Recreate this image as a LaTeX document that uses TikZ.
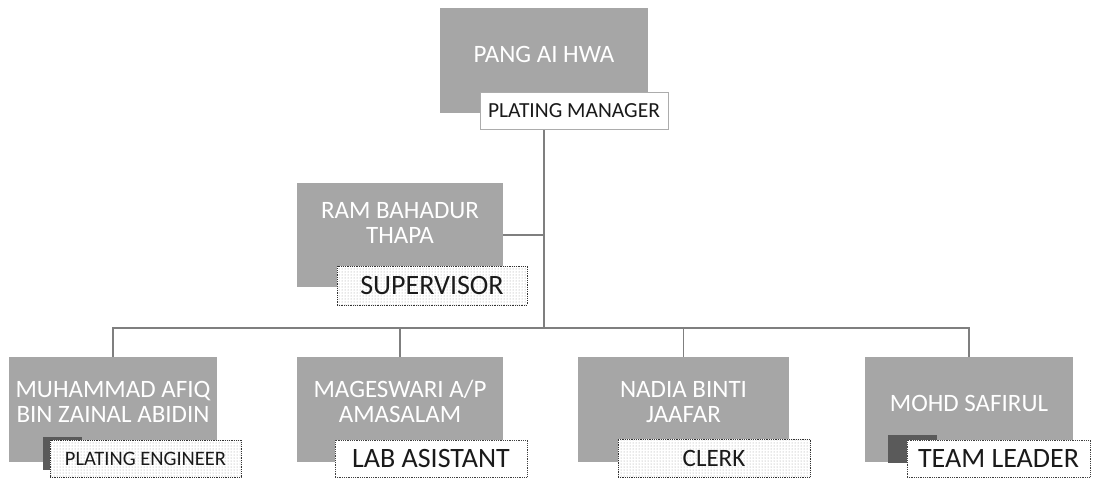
\documentclass[tikz,border=0pt]{standalone}
\usepackage{fontspec}
\setmainfont{Carlito}
\usetikzlibrary{patterns,backgrounds}
\definecolor{boxgray}{HTML}{A6A6A6}
\definecolor{linegray}{HTML}{7F7F7F}
\definecolor{txtdark}{HTML}{1A1A1A}
\definecolor{patchgray}{HTML}{5A5A5A}
\tikzset{
  namebox/.style={fill=boxgray, draw=none, text=white, align=center,
    font=\fontsize{25}{25}\selectfont, inner sep=0pt,
    minimum width=208pt, minimum height=105pt},
  rolebox/.style={fill=white, draw=gray!65, line width=0.8pt, text=txtdark,
    inner sep=0pt, minimum height=37pt},
  stipple/.style={preaction={fill=white}, pattern=dots, pattern color=gray!80,
    draw=gray!40!black, densely dotted},
  dotborder/.style={draw=gray!50!black, densely dotted},
  conn/.style={draw=linegray, line width=1.4pt},
  patch/.style={fill=patchgray}
}
\begin{document}
\begin{tikzpicture}[x=1pt, y=-1pt]
\useasboundingbox (0,0) rectangle (1095,482);

% top
\node[namebox, text depth=13pt] (top) at (544,60.5) {PANG AI HWA};
\node[rolebox, minimum width=188pt, font=\fontsize{21.5}{24}\selectfont] (mgr) at (574,110.5) {PLATING MANAGER};

% supervisor
\node[namebox, minimum width=206pt, minimum height=104pt, text depth=24pt] (sup) at (400,235) {RAM BAHADUR\\THAPA};
\node[rolebox, stipple, minimum width=190pt, minimum height=39pt, font=\fontsize{28}{30}\selectfont] (supl) at (432,285.5) {SUPERVISOR};

% bottom row
\node[namebox, text depth=16pt] (b1) at (113,409.5) {MUHAMMAD AFIQ\\BIN ZAINAL ABIDIN};
\node[namebox, minimum width=206pt, text depth=16pt] (b2) at (400,409.5) {MAGESWARI A/P\\AMASALAM};
\node[namebox, minimum width=211pt, text depth=16pt] (b3) at (683.5,409.5) {NADIA BINTI\\JAAFAR};
\node[namebox, text depth=12pt] (b4) at (969,409.5) {MOHD SAFIRUL};

% dark patches behind labels
\fill[patch] (43,437) rectangle (82,470);
\fill[patch] (888,435) rectangle (937,463);

\node[rolebox, stipple, minimum width=191pt, font=\fontsize{20.5}{22}\selectfont] (b1l) at (145.5,458.5) {PLATING ENGINEER};
\node[rolebox, dotborder, minimum width=192pt, font=\fontsize{28}{30}\selectfont] (b2l) at (431,458.5) {LAB ASISTANT};
\node[rolebox, stipple, minimum width=192pt, minimum height=38pt, font=\fontsize{25}{27}\selectfont] (b3l) at (714,458) {CLERK};
\node[rolebox, dotborder, minimum width=183pt, font=\fontsize{28}{30}\selectfont] (b4l) at (998.5,458.5) {TEAM LEADER};

\coordinate (bus) at (544,328);

\begin{scope}[on background layer]
  \draw[conn] (top.south) -- (top.south |- bus);
  \draw[conn] (sup.east) -- (sup.east -| top.south);
  \draw[conn] (b1.north) -- (b1.north |- bus) -- (b4.north |- bus) -- (b4.north);
  \draw[conn] (b2.north) -- (b2.north |- bus);
  \draw[conn] (b3.north) -- (b3.north |- bus);
\end{scope}
\end{tikzpicture}
\end{document}
